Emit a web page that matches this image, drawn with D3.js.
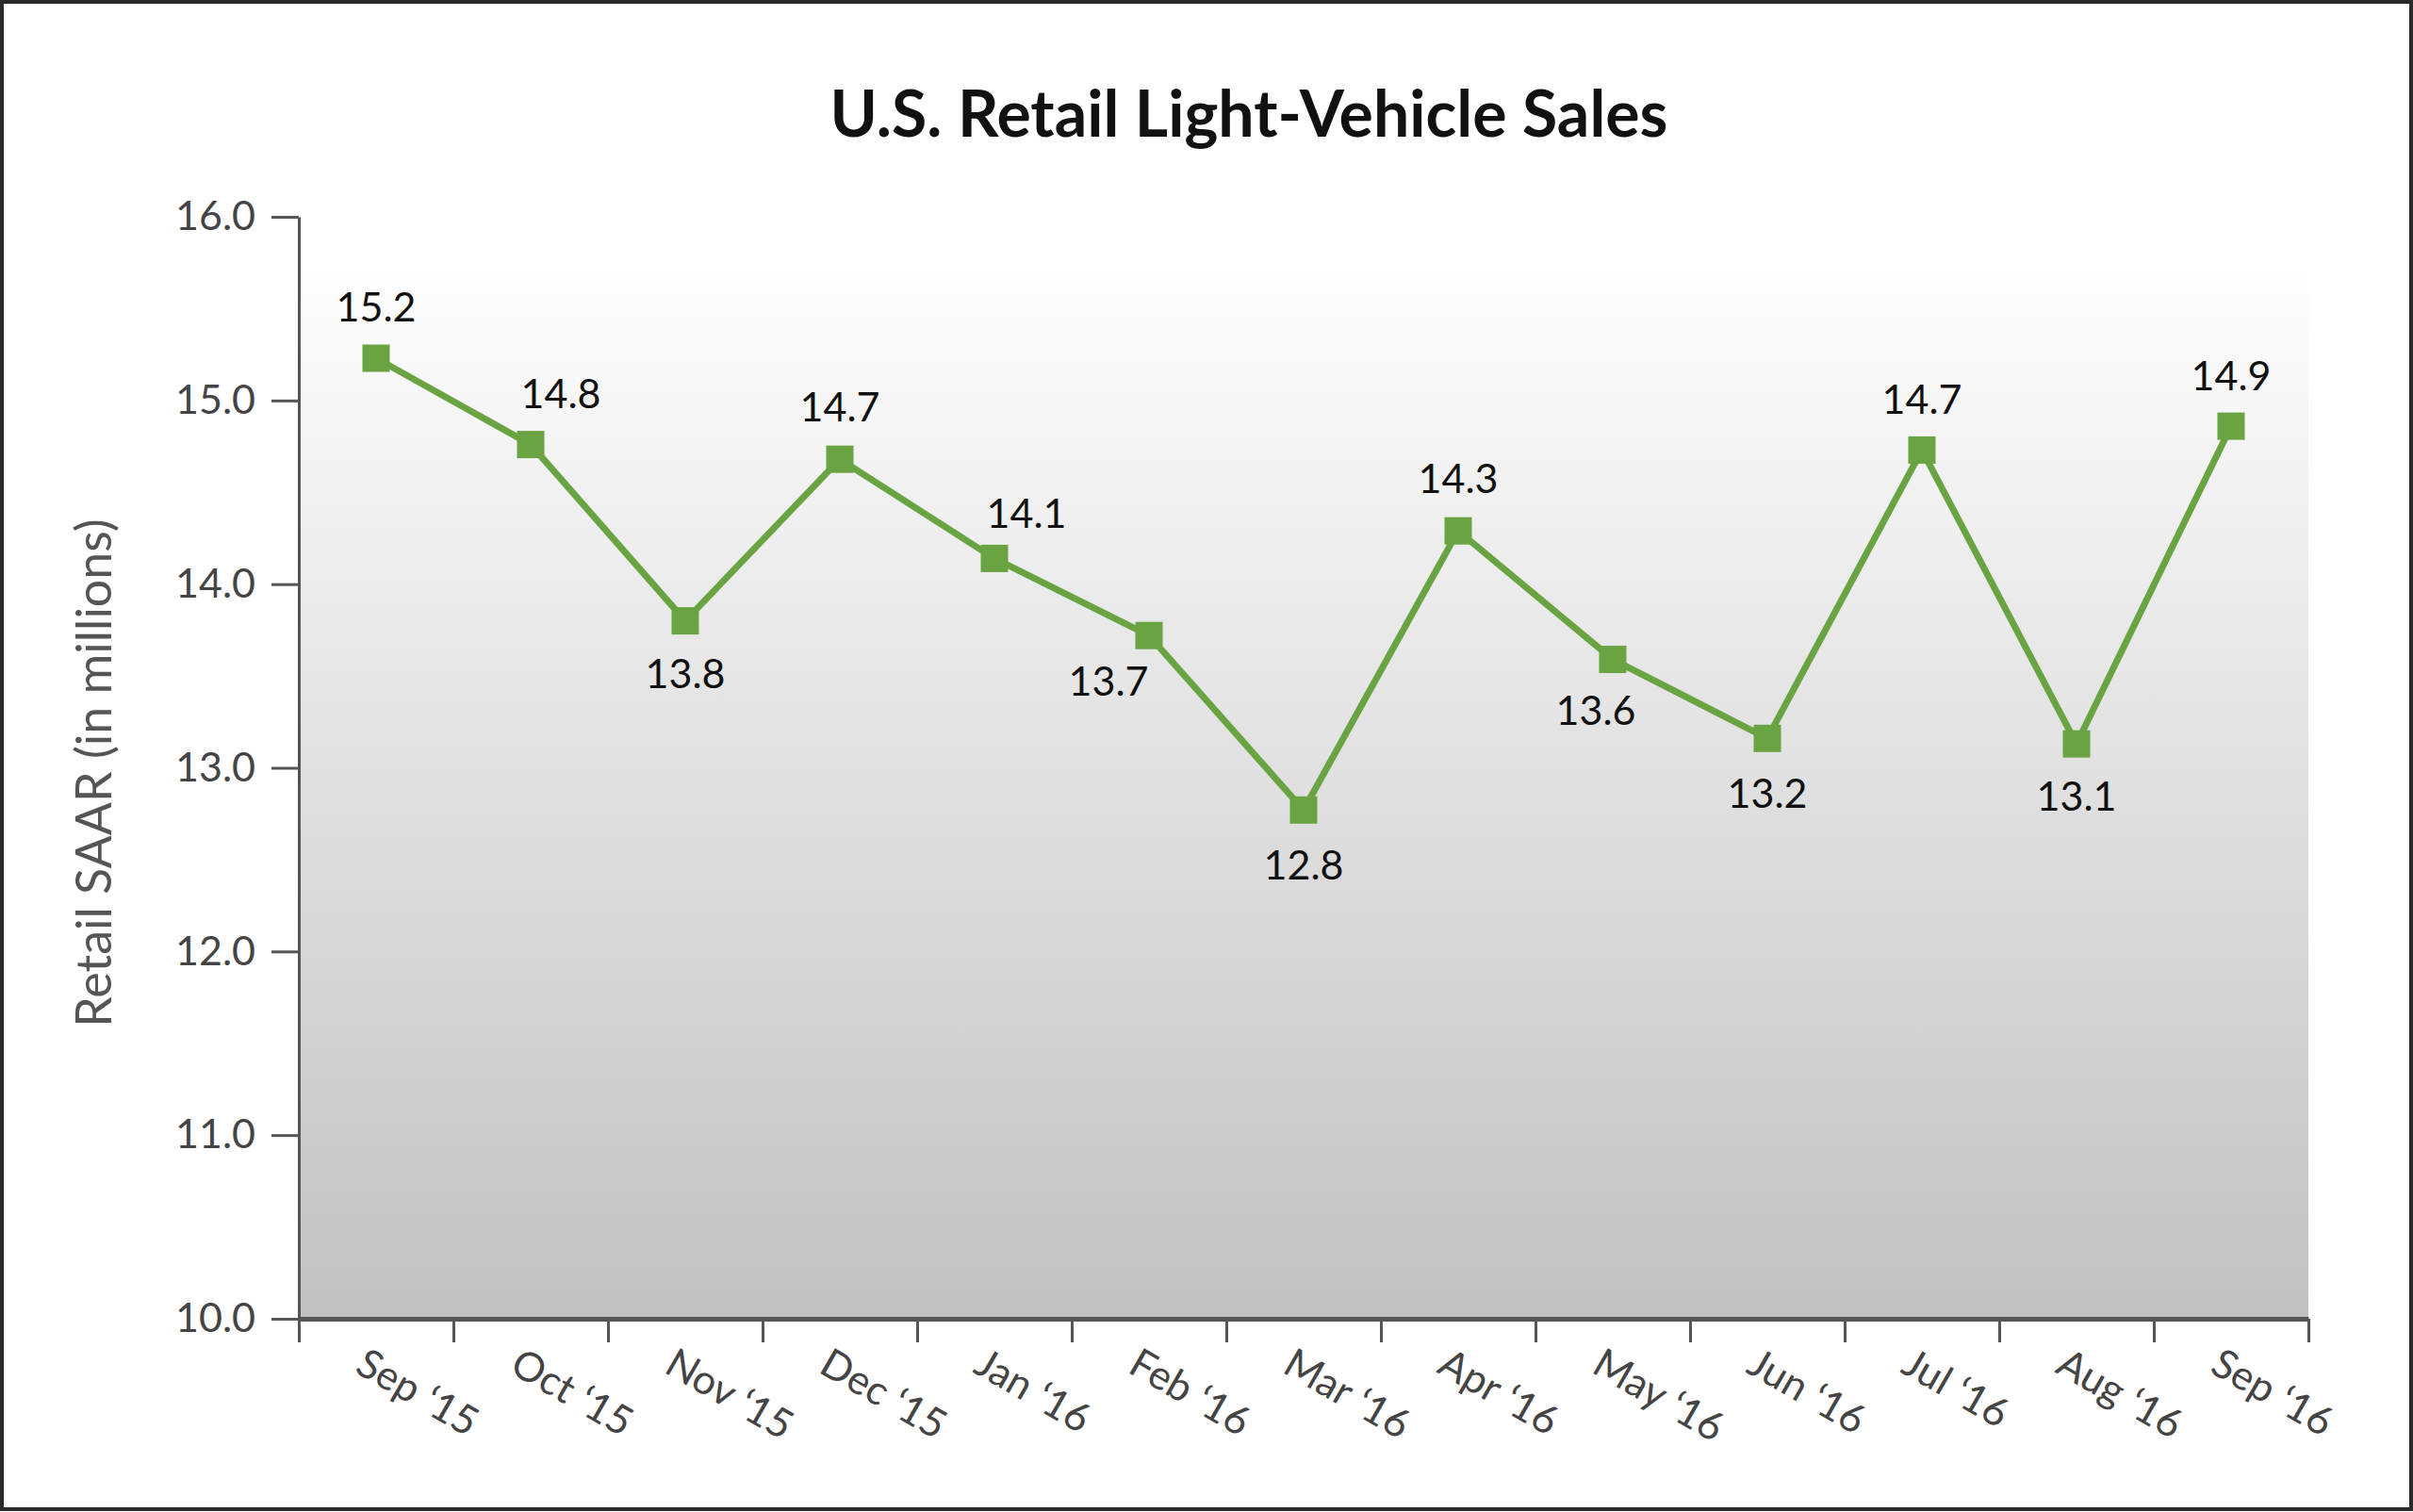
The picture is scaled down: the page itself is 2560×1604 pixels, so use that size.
<!DOCTYPE html>
<html>
<head>
<meta charset="utf-8">
<script src="https://cdn.jsdelivr.net/npm/d3@7"></script>
<style>
	body { margin: 0; background: #fff; }
	text { font-family: Lato, "Open Sans", sans-serif; }
</style>
</head>
<body>
<div id="graphic"></div>
<script>
// chart data
const months = ["Sep \u201815", "Oct \u201815", "Nov \u201815", "Dec \u201815", "Jan \u201816", "Feb \u201816",
	"Mar \u201816", "Apr \u201816", "May \u201816", "Jun \u201816", "Jul \u201816", "Aug \u201816", "Sep \u201816"];
const saar = [15.23, 14.76, 13.80, 14.68, 14.14, 13.72, 12.77, 14.29, 13.59, 13.16, 14.73, 13.13, 14.86];
const yTicks = [10, 11, 12, 13, 14, 15, 16];

// where each value label sits relative to its marker
const labelOffsets = [
	[0, -39], [32, -39], [0, 71], [0, -40], [34, -32], [-43, 64], [0, 74],
	[0, -40], [-18, 69], [0, 74], [0, -38], [0, 71], [0, -38]
];

const W = 2560, H = 1604;
const margin = { top: 230, right: 111, bottom: 205, left: 317 };
const width = W - margin.left - margin.right;
const height = H - margin.top - margin.bottom;
const green = "#6aa341";

const graphicData = months.map((m, i) => ({ month: m, value: saar[i] }));

const svg = d3.select("#graphic").append("svg")
	.attr("width", W)
	.attr("height", H);

// outer frame
svg.append("rect")
	.attr("x", 2).attr("y", 2)
	.attr("width", W - 4).attr("height", H - 5)
	.attr("fill", "#fff")
	.attr("stroke", "#2a2a2a")
	.attr("stroke-width", 4);

const defs = svg.append("defs");
const grad = defs.append("linearGradient")
	.attr("id", "bg")
	.attr("x1", 0).attr("y1", 0).attr("x2", 0).attr("y2", 1);
grad.append("stop").attr("offset", "0%").attr("stop-color", "#ffffff");
grad.append("stop").attr("offset", "100%").attr("stop-color", "#c1c1c1");

// title
svg.append("text")
	.attr("x", 1325)
	.attr("y", 145)
	.attr("text-anchor", "middle")
	.attr("font-size", 68)
	.attr("font-weight", 700)
	.attr("fill", "#111")
	.text("U.S. Retail Light-Vehicle Sales");

const g = svg.append("g")
	.attr("transform", `translate(${margin.left},${margin.top})`);

const x = d3.scaleBand()
	.domain(months)
	.range([0, width]);

// boundaries between months, used for the x tick marks
const xEdge = d3.scaleLinear()
	.domain([0, months.length])
	.range([0, width]);

const y = d3.scaleLinear()
	.domain([10, 16])
	.range([height, 0]);

// plot background
g.append("rect")
	.attr("x", 0)
	.attr("y", 38)
	.attr("width", width)
	.attr("height", height - 38)
	.attr("fill", "url(#bg)");

// y axis
const yAxis = g.append("g")
	.attr("class", "y axis")
	.call(d3.axisLeft(y)
		.tickValues(yTicks)
		.tickFormat(d3.format(".1f"))
		.tickSize(29)
		.tickPadding(17)
		.tickSizeOuter(0));
yAxis.select(".domain").attr("stroke", "#555").attr("stroke-width", 3);
yAxis.selectAll(".tick line").attr("stroke", "#555").attr("stroke-width", 3);
yAxis.selectAll(".tick text")
	.attr("font-size", 43)
	.attr("fill", "#444")
	.attr("font-family", "Lato, sans-serif");

// x axis
const xAxis = g.append("g")
	.attr("class", "x axis")
	.attr("transform", `translate(0,${height})`)
	.call(d3.axisBottom(xEdge)
		.tickValues(d3.range(months.length + 1))
		.tickFormat("")
		.tickSize(25)
		.tickSizeOuter(0));
xAxis.select(".domain").attr("stroke", "#555").attr("stroke-width", 5);
xAxis.selectAll(".tick line").attr("stroke", "#555").attr("stroke-width", 3);

g.selectAll(".month-label")
	.data(months)
	.join("text")
	.attr("class", "month-label")
	.attr("transform", (d) => `translate(${x(d) + x.bandwidth() / 2 - 24},${height + 56}) rotate(30)`)
	.attr("text-anchor", "start")
	.attr("font-size", 43)
	.attr("fill", "#444")
	.text((d) => d);

// y axis title
svg.append("text")
	.attr("transform", "translate(118,820) rotate(-90)")
	.attr("text-anchor", "middle")
	.attr("font-size", 52)
	.attr("fill", "#555")
	.text("Retail SAAR (in millions)");

// line
const line = d3.line()
	.x((d) => x(d.month) + x.bandwidth() / 2)
	.y((d) => y(d.value));

g.append("path")
	.datum(graphicData)
	.attr("fill", "none")
	.attr("stroke", green)
	.attr("stroke-width", 7)
	.attr("stroke-linejoin", "round")
	.attr("d", line);

// square markers
const side = 29;
g.selectAll(".marker")
	.data(graphicData)
	.join("rect")
	.attr("class", "marker")
	.attr("x", (d) => x(d.month) + x.bandwidth() / 2 - side / 2)
	.attr("y", (d) => y(d.value) - side / 2)
	.attr("width", side)
	.attr("height", side)
	.attr("fill", green);

// value labels
g.selectAll(".value-label")
	.data(graphicData)
	.join("text")
	.attr("class", "value-label")
	.attr("x", (d, i) => x(d.month) + x.bandwidth() / 2 + labelOffsets[i][0])
	.attr("y", (d, i) => y(d.value) + labelOffsets[i][1])
	.attr("text-anchor", "middle")
	.attr("font-size", 43)
	.attr("fill", "#111")
	.text((d) => d3.format(".1f")(d.value));
</script>
</body>
</html>
